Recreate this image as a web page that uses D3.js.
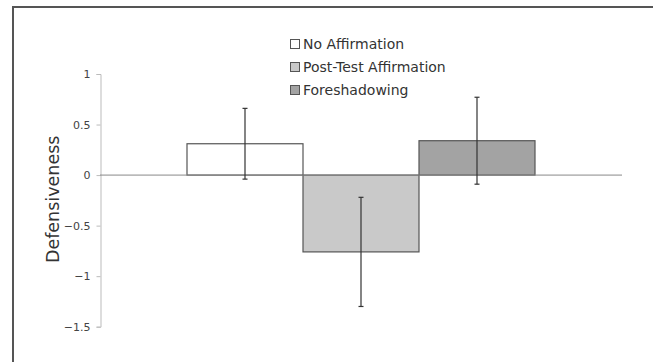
<!DOCTYPE html>
<html>
<head>
<meta charset="utf-8">
<script src="https://cdn.jsdelivr.net/npm/d3@7"></script>
<style>
  body { margin: 0; background: #fff; }
  svg { display: block; font-family: "DejaVu Sans", Verdana, sans-serif; }
</style>
</head>
<body>
<div id="chart"></div>
<script>
// data
const series = ['No Affirmation', 'Post-Test Affirmation', 'Foreshadowing'];
const values = [0.31, -0.76, 0.34];
const errors = [0.35, 0.54, 0.43];
const yTicks = [1, 0.5, 0, -0.5, -1, -1.5];
const fills = ['#ffffff', '#c9c9c9', '#a3a3a3'];

const width = 653, height = 362;

const svg = d3.select('#chart').append('svg')
  .attr('width', width).attr('height', height);

// frame (only top and left edges show in the crop)
svg.append('path')
  .attr('d', `M13,${height} L13,7 L${width},7`)
  .attr('fill', 'none')
  .attr('stroke', '#555')
  .attr('stroke-width', 2);

const xScale = d3.scaleBand()
  .domain(series)
  .range([100, 622])
  .paddingInner(0)
  .paddingOuter(0.75);

const yScale = d3.scaleLinear()
  .domain([-1.5, 1])
  .range([326.7, 74]);

// y axis
const yAxis = d3.axisLeft(yScale)
  .tickValues(yTicks)
  .tickFormat(d => d3.format('')(d).replace('-', '\u2212'))
  .tickSize(4)
  .tickPadding(6);

const yG = svg.append('g')
  .attr('transform', 'translate(100.5,0)')
  .call(yAxis);
yG.select('.domain').attr('stroke', '#bbb');
yG.selectAll('.tick line').attr('stroke', '#bbb');
yG.selectAll('.tick text')
  .attr('fill', '#444')
  .style('font-size', '11px')
  .style('font-family', '"DejaVu Sans", Verdana, sans-serif');

// bars
svg.selectAll('rect.bar')
  .data(series)
  .join('rect')
  .attr('class', 'bar')
  .attr('x', d => xScale(d))
  .attr('width', xScale.bandwidth())
  .attr('y', (d, i) => yScale(Math.max(0, values[i])))
  .attr('height', (d, i) => Math.abs(yScale(values[i]) - yScale(0)))
  .attr('fill', (d, i) => fills[i])
  .attr('stroke', '#555')
  .attr('stroke-width', 1.2);

// zero line
svg.append('line')
  .attr('x1', xScale.range()[0]).attr('x2', xScale.range()[1])
  .attr('y1', yScale(0)).attr('y2', yScale(0))
  .attr('stroke', '#888')
  .attr('stroke-width', 1);

// error bars
const eb = svg.selectAll('g.err')
  .data(series)
  .join('g')
  .attr('class', 'err')
  .attr('stroke', '#333')
  .attr('stroke-width', 1.2);

eb.append('line')
  .attr('x1', d => xScale(d) + xScale.bandwidth() / 2)
  .attr('x2', d => xScale(d) + xScale.bandwidth() / 2)
  .attr('y1', (d, i) => yScale(values[i] + errors[i]))
  .attr('y2', (d, i) => yScale(values[i] - errors[i]));

[1, -1].forEach(s => {
  eb.append('line')
    .attr('x1', d => xScale(d) + xScale.bandwidth() / 2 - 2.5)
    .attr('x2', d => xScale(d) + xScale.bandwidth() / 2 + 2.5)
    .attr('y1', (d, i) => yScale(values[i] + s * errors[i]))
    .attr('y2', (d, i) => yScale(values[i] + s * errors[i]));
});

// y label
svg.append('text')
  .attr('transform', `translate(59,${yScale(-0.24)}) rotate(-90)`)
  .attr('text-anchor', 'middle')
  .attr('fill', '#333')
  .style('font-size', '17.5px')
  .text('Defensiveness');

// legend
const legend = svg.append('g')
  .attr('transform', 'translate(290,44)');

const items = legend.selectAll('g')
  .data(series)
  .join('g')
  .attr('transform', (d, i) => `translate(0,${i * 23})`);

items.append('rect')
  .attr('x', 0.5).attr('y', -4.5)
  .attr('width', 9).attr('height', 9)
  .attr('fill', (d, i) => fills[i])
  .attr('stroke', '#555');

items.append('text')
  .attr('x', 13)
  .attr('dy', '0.36em')
  .attr('fill', '#333')
  .style('font-size', '14px')
  .text(d => d);
</script>
</body>
</html>
